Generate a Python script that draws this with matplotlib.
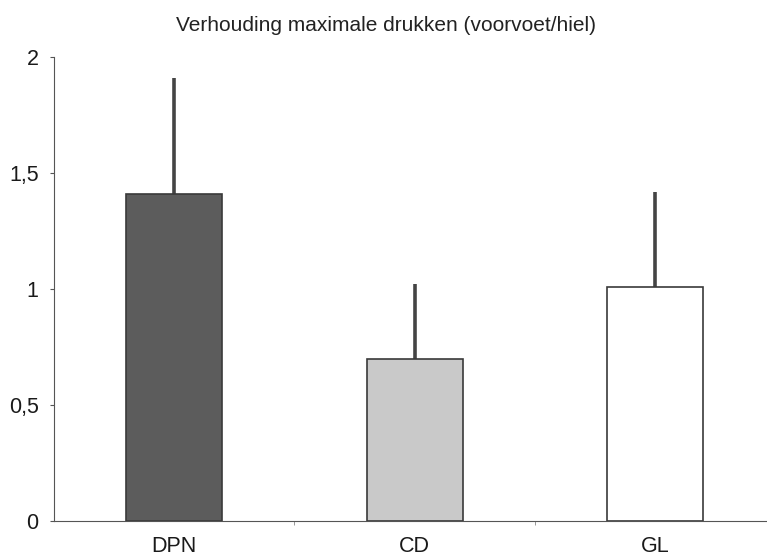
import matplotlib.pyplot as plt
import numpy as np

plt.rcParams['font.family'] = ['Liberation Sans', 'DejaVu Sans']

groups = ['DPN', 'CD', 'GL']
means = [1.41, 0.70, 1.01]
sd = [0.50, 0.32, 0.41]
colors = ['#5c5c5c', '#c9c9c9', '#ffffff']
yticks = [0, 0.5, 1, 1.5, 2]
ytick_labels = ['0', '0,5', '1', '1,5', '2']

fig = plt.figure(figsize=(7.67, 5.56), dpi=100)
ax = fig.add_axes([0.0704, 0.063, 0.9296, 0.834])

x = np.arange(len(groups))
ax.bar(x, means, width=0.40, color=colors, edgecolor='#3a3a3a', linewidth=1.2, zorder=2)
# upper half of the error bars only, without caps
ax.errorbar(x, means, yerr=[np.zeros(len(sd)), sd], fmt='none',
            ecolor='#444444', elinewidth=2.6, capsize=0, zorder=1)

ax.set_xlim(-0.5, 2.465)
ax.set_ylim(0, 2)
ax.set_yticks(yticks)
ax.set_yticklabels(ytick_labels)
ax.set_xticks(x)
ax.set_xticklabels(groups)
ax.set_xticks([0.5, 1.5], minor=True)

for side in ['top', 'right']:
    ax.spines[side].set_visible(False)
ax.spines['left'].set_color('#555555')
ax.spines['bottom'].set_color('#555555')
ax.tick_params(axis='y', direction='out', length=3, color='#555555',
               labelsize=15.5, pad=8, labelcolor='#1a1a1a')
ax.tick_params(axis='x', which='major', length=0, labelsize=15.5, pad=11,
               labelcolor='#1a1a1a')
ax.tick_params(axis='x', which='minor', direction='out', length=3, color='#888888')

fig.text(0.503, 0.955, 'Verhouding maximale drukken (voorvoet/hiel)',
         ha='center', va='center', fontsize=15, color='#222222')

fig.savefig('out.png', dpi=100)
